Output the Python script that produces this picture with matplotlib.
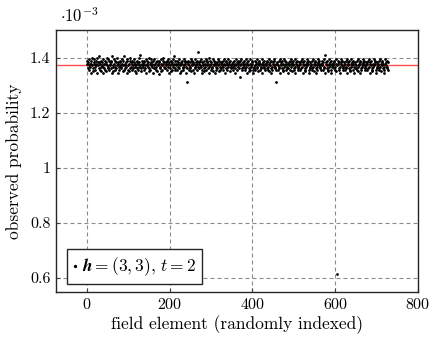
import numpy as np
import matplotlib
matplotlib.use('Agg')
import matplotlib.pyplot as plt
from matplotlib.ticker import FuncFormatter

#-------------- Data ----------------------------------------------------------------

# observed probabilities (x 1e-3), one letter per field element
# letter 'p' sits on 1/729, one letter step = 0.0055 ; '#' marks the single low outlier
codes = """
qsnrtpmoq kqsupnlrq tomqspkur
pnrvmqsol rptkoqnsm qrlpuonts
mqpsnrkvo pltqmsorn upqkrmosp
rnoqtlpsm vqnprokts mpqlsunro
qsmpnrtlo qkprsnmqu ropwlnsqp
oqrmspnkt qpsorlnuq mrtpoqksn
tpnqomrsl pqjsrnotq lmpqusron
nrqpsmoqt krpnqslmr otpvqnmsq
pmsqrontk qplrsqmon tpsrqkonr
eqsmpnrot lqsprmkqn otrpsqmyo
qnrpsotmk rqpnsloqt mrpsqnouk
psqmrnotl qsprkmoqn rtpsqlmor
nrqpomstq pkrsnqmop tqrlsnpoq
qomrpsnkq tprmqsonr phsqtnmoq
rpsnqmotk qrpsnlmqt oprqsmkno
smpqrnotq lrpsqmnok tqrpsonmq
pqnrsmotl qprksnmoq rtpsonqem
qrpmsnotk prqsnlmqo tpsrqmnok
nqrpsmotq lrpsqnmko tqrpsonmr
pmqrsnotk qrpsnlmoq tprqsmkon
rqpnsmotl qprsnkmoq trpsqonmq
qspmrnotk wqrpsnlmo qtprsmkoq
pqrnsmotq l#psqrnmo ktqrpsonm
rpqmsnotk qrpsnlmoq tprqsmkon
qrnpsmotl qprskmnoq trpsqonmr
pmqrsnotk qrpsnlmqo tpsrqmkno
rqpnsmotq lrpsqnmko tqrpsonmr
"""
outlier_value = 0.614   # x 1e-3
expected = 1e3 / 729     # uniform probability, x 1e-3

codes = "".join(codes.split())
field_element = np.arange(len(codes))
probability = np.array([outlier_value if c == '#' else expected + (ord(c) - ord('p')) * 0.0055
                        for c in codes])

#-------------- Style ---------------------------------------------------------------

plt.rcParams.update({'font.family': 'serif',
                     'font.serif': ['cmr10'],
                     'mathtext.fontset': 'cm',
                     'axes.formatter.use_mathtext': True,
                     'font.size': 12.5})

fig = plt.figure(figsize=(4.3, 3.37), dpi=100)
ax = fig.add_axes([0.130, 0.134, 0.842, 0.777])

ax.axhline(expected, color='#ff4d4d', lw=1.0, zorder=2)
ax.scatter(field_element, probability, s=4, c='k', linewidths=0, zorder=3,
           label=r'$\mathbfit{h} = (3,3),\, t = 2$')

ax.set_xlim(-75, 800)
ax.set_ylim(0.55, 1.5)
ax.set_xticks([0, 200, 400, 600, 800])
ax.set_yticks([0.6, 0.8, 1.0, 1.2, 1.4])
ax.yaxis.set_major_formatter(FuncFormatter(lambda v, p: ('%g' % round(v, 2))))
ax.grid(True, ls=(0, (3.6, 2.7)), color='#8c8c8c', lw=0.8)
ax.tick_params(direction='in', length=3, width=0.8, color='#404040', pad=4,
               labelsize=11.5)
for s in ax.spines.values():
    s.set_linewidth(1.0)
    s.set_color('#262626')

ax.set_xlabel('field element (randomly indexed)', labelpad=2)
ax.set_ylabel('observed probability', labelpad=6)
ax.text(0.01, 1.03, r'$\cdot 10^{-3}$', transform=ax.transAxes, fontsize=12)

leg = ax.legend(loc='lower left', bbox_to_anchor=(0.03, 0.03), fancybox=False,
                framealpha=1, edgecolor='#262626', handlelength=0.2, handletextpad=0.3,
                borderpad=0.35, borderaxespad=0, markerscale=1.2)
leg.get_frame().set_linewidth(1.0)

fig.savefig('out.png', dpi=100)
